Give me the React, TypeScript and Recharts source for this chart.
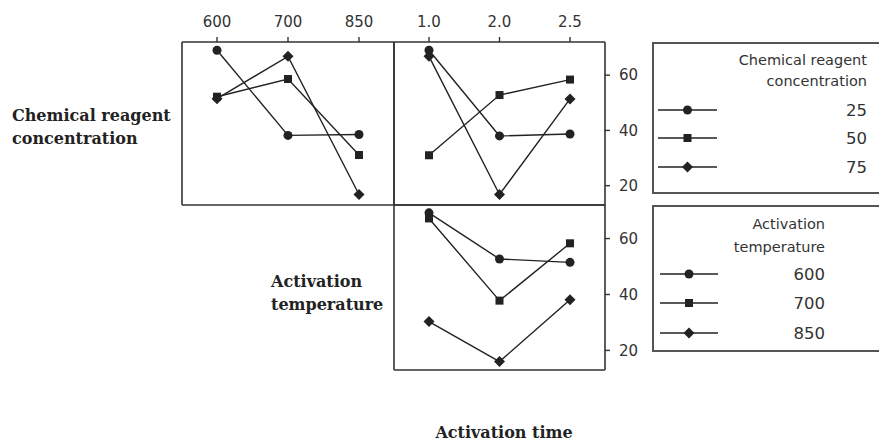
import React from "react";
import { LineChart, Line, XAxis, YAxis, Legend } from "recharts";

// factor levels
const temperatures = ["600", "700", "850"];
const times = ["1.0", "2.0", "2.5"];
const concentrationLevels = ["25", "50", "75"];
const temperatureLevels = ["600", "700", "850"];
const yTicks = [20, 40, 60];
const yDomain = [13, 72];

// concentration x temperature (top-left)
const conc25ByTemp = [69, 38.2, 38.5];
const conc50ByTemp = [52.2, 58.6, 31.1];
const conc75ByTemp = [51.5, 66.8, 16.8];

// concentration x time (top-right)
const conc25ByTime = [69, 38, 38.7];
const conc50ByTime = [31, 52.8, 58.4];
const conc75ByTime = [66.8, 16.8, 51.4];

// temperature x time (bottom-right)
const temp600ByTime = [69.2, 52.7, 51.5];
const temp700ByTime = [67.2, 37.8, 58.3];
const temp850ByTime = [30.3, 16, 38.1];

const shapes = ["circle", "square", "diamond"];

const INK = "#222";
const AXIS = "#333";
const SANS = "'DejaVu Sans', sans-serif";
const SERIF = "'DejaVu Serif', serif";

const build = (cats: string[], series: number[][]) =>
  cats.map((c, i) => ({ x: c, s0: series[0][i], s1: series[1][i], s2: series[2][i] }));

const panelA = build(temperatures, [conc25ByTemp, conc50ByTemp, conc75ByTemp]);
const panelB = build(times, [conc25ByTime, conc50ByTime, conc75ByTime]);
const panelC = build(times, [temp600ByTime, temp700ByTime, temp850ByTime]);

const Marker = ({ cx, cy, shape }: any) => {
  if (cx == null || cy == null) return null;
  if (shape === "circle") return <circle cx={cx} cy={cy} r={4.5} fill={INK} />;
  if (shape === "square") return <rect x={cx - 4} y={cy - 4} width={8} height={8} fill={INK} />;
  const d = 5.5;
  return (
    <polygon
      points={`${cx},${cy - d} ${cx + d},${cy} ${cx},${cy + d} ${cx - d},${cy}`}
      fill={INK}
    />
  );
};

const LegendBox = ({ title, names, w, h, textRight, lineX, titleY, itemY }: any) => (
  <svg width={w} height={h} style={{ display: "block" }}>
    <polyline
      points={`${w},1 1,1 1,${h - 1} ${w},${h - 1}`}
      fill="none"
      stroke="#555"
      strokeWidth={2}
    />
    {title.map((t: string, i: number) => (
      <text
        key={t}
        x={textRight}
        y={titleY[i]}
        textAnchor="end"
        dominantBaseline="central"
        fontFamily={SANS}
        fontSize={14.5}
        fill="#333"
      >
        {t}
      </text>
    ))}
    {names.map((n: string, i: number) => (
      <g key={n}>
        <line x1={lineX[0]} x2={lineX[1]} y1={itemY[i]} y2={itemY[i]} stroke={INK} strokeWidth={1.5} />
        <Marker cx={(lineX[0] + lineX[1]) / 2} cy={itemY[i]} shape={shapes[i]} />
        <text
          x={textRight}
          y={itemY[i]}
          textAnchor="end"
          dominantBaseline="central"
          fontFamily={SANS}
          fontSize={16.5}
          fill="#333"
        >
          {n}
        </text>
      </g>
    ))}
  </svg>
);

const tickStyle = { fontFamily: SANS, fontSize: 15, fill: "#333" };
const axisLine = { stroke: AXIS, strokeWidth: 1.6 };

// frame axes have size 1 so they still render their line; margins are reduced by 1 to match
const Panel = ({ data, left, top, width, height, margin, topTicks, rightTicks, legend }: any) => (
  <div style={{ position: "absolute", left, top }}>
    <LineChart width={width} height={height} data={data} margin={margin}>
      <XAxis
        xAxisId="top"
        orientation="top"
        dataKey="x"
        height={topTicks ? 30 : 1}
        padding={{ left: 35, right: 35 }}
        tick={topTicks ? tickStyle : false}
        tickLine={topTicks ? { stroke: AXIS, strokeWidth: 1.4 } : false}
        tickSize={5}
        tickMargin={10}
        axisLine={axisLine}
      />
      <XAxis
        xAxisId="bottom"
        dataKey="x"
        height={1}
        padding={{ left: 35, right: 35 }}
        tick={false}
        tickLine={false}
        axisLine={axisLine}
      />
      <YAxis yAxisId="left" width={1} domain={yDomain} tick={false} tickLine={false} axisLine={axisLine} />
      <YAxis
        yAxisId="right"
        orientation="right"
        width={rightTicks ? 40 : 1}
        domain={yDomain}
        ticks={yTicks}
        tick={rightTicks ? tickStyle : false}
        tickLine={rightTicks ? { stroke: AXIS, strokeWidth: 1.4 } : false}
        tickSize={5}
        tickMargin={9}
        axisLine={axisLine}
      />
      {["s0", "s1", "s2"].map((k, i) => (
        <Line
          key={k}
          xAxisId="top"
          yAxisId="right"
          dataKey={k}
          name={legend ? legend.names[i] : k}
          type="linear"
          stroke={INK}
          strokeWidth={1.4}
          isAnimationActive={false}
          dot={(p: any) => <Marker key={`${k}-${p.index}`} cx={p.cx} cy={p.cy} shape={shapes[i]} />}
          activeDot={false}
        />
      ))}
      {legend && (
        <Legend
          layout="horizontal"
          align="center"
          verticalAlign="middle"
          wrapperStyle={{ left: legend.left, top: legend.top, width: legend.w, height: legend.h }}
          content={() => <LegendBox {...legend} />}
        />
      )}
    </LineChart>
  </div>
);

const titleStyle: React.CSSProperties = {
  position: "absolute",
  fontFamily: SERIF,
  fontWeight: 700,
  fontSize: 16,
  color: "#222",
  lineHeight: "23px",
  whiteSpace: "nowrap",
};

export default function App() {
  return (
    <div
      style={{
        position: "absolute",
        left: 0,
        top: 0,
        width: 879,
        height: 441,
        overflow: "hidden",
        background: "#fff",
      }}
    >
      <Panel
        data={panelA}
        left={170}
        top={0}
        width={240}
        height={215}
        margin={{ top: 12, left: 11, right: 15, bottom: 9 }}
        topTicks
        rightTicks={false}
      />
      <Panel
        data={panelB}
        left={380}
        top={0}
        width={499}
        height={215}
        margin={{ top: 12, left: 13, right: 234, bottom: 9 }}
        topTicks
        rightTicks
        legend={{
          title: ["Chemical reagent", "concentration"],
          names: concentrationLevels,
          left: 272,
          top: 42,
          w: 227,
          h: 152,
          textRight: 215,
          lineX: [6, 65],
          titleY: [18, 39],
          itemY: [68, 96, 125],
        }}
      />
      <Panel
        data={panelC}
        left={380}
        top={195}
        width={499}
        height={190}
        margin={{ top: 9, left: 13, right: 234, bottom: 14 }}
        topTicks={false}
        rightTicks
        legend={{
          title: ["Activation", "temperature"],
          names: temperatureLevels,
          left: 272,
          top: 10,
          w: 227,
          h: 147,
          textRight: 173,
          lineX: [8, 66],
          titleY: [19, 42],
          itemY: [69, 98, 128],
        }}
      />
      <div style={{ ...titleStyle, left: 12, top: 104 }}>
        Chemical reagent
        <br />
        concentration
      </div>
      <div style={{ ...titleStyle, left: 271, top: 270 }}>
        Activation
        <br />
        temperature
      </div>
      <div style={{ ...titleStyle, left: 400, width: 208, textAlign: "center", top: 421 }}>
        Activation time
      </div>
    </div>
  );
}
